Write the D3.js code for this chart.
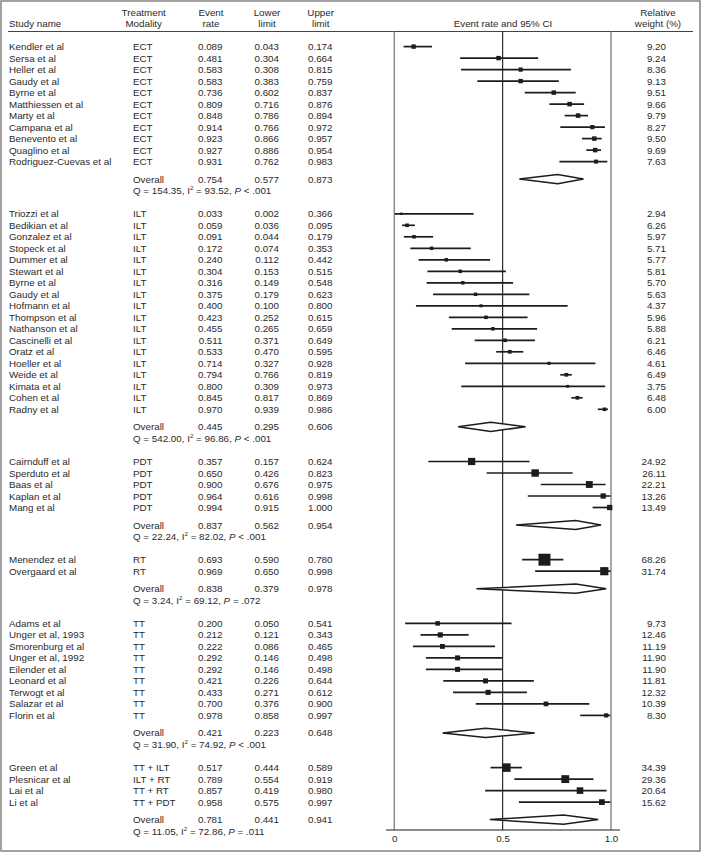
<!DOCTYPE html>
<html>
<head>
<meta charset="utf-8">
<script src="https://cdn.jsdelivr.net/npm/d3@7"></script>
<style>
  html, body { margin: 0; padding: 0; background: #fff; }
  svg { display: block; }
  text { font-family: "Liberation Sans", Arial, Helvetica, sans-serif; font-size: 9.8px; fill: #2a2a2a; }
</style>
</head>
<body>
<svg id="chart" width="702" height="853"></svg>
<script>
// ---------- DATA ----------
const groupNames = ["ECT", "ILT", "PDT", "RT", "TT", "Combination"];
const groupSizes = [11, 18, 5, 2, 9, 4];

const studyNames = [
  "Kendler et al", "Sersa et al", "Heller et al", "Gaudy et al", "Byrne et al", "Matthiessen et al", "Marty et al", "Campana et al", "Benevento et al", "Quaglino et al", "Rodriguez-Cuevas et al",
  "Triozzi et al", "Bedikian et al", "Gonzalez et al", "Stopeck et al", "Dummer et al", "Stewart et al", "Byrne et al", "Gaudy et al", "Hofmann et al", "Thompson et al", "Nathanson et al", "Cascinelli et al", "Oratz et al", "Hoeller et al", "Weide et al", "Kimata et al", "Cohen et al", "Radny et al",
  "Cairnduff et al", "Sperduto et al", "Baas et al", "Kaplan et al", "Mang et al",
  "Menendez et al", "Overgaard et al",
  "Adams et al", "Unger et al, 1993", "Smorenburg et al", "Unger et al, 1992", "Eilender et al", "Leonard et al", "Terwogt et al", "Salazar et al", "Florin et al",
  "Green et al", "Plesnicar et al", "Lai et al", "Li et al"
];
const modalities = [
  "ECT","ECT","ECT","ECT","ECT","ECT","ECT","ECT","ECT","ECT","ECT",
  "ILT","ILT","ILT","ILT","ILT","ILT","ILT","ILT","ILT","ILT","ILT","ILT","ILT","ILT","ILT","ILT","ILT","ILT",
  "PDT","PDT","PDT","PDT","PDT",
  "RT","RT",
  "TT","TT","TT","TT","TT","TT","TT","TT","TT",
  "TT + ILT","ILT + RT","TT + RT","TT + PDT"
];
const eventRates = [
  0.089,0.481,0.583,0.583,0.736,0.809,0.848,0.914,0.923,0.927,0.931,
  0.033,0.059,0.091,0.172,0.240,0.304,0.316,0.375,0.400,0.423,0.455,0.511,0.533,0.714,0.794,0.800,0.845,0.970,
  0.357,0.650,0.900,0.964,0.994,
  0.693,0.969,
  0.200,0.212,0.222,0.292,0.292,0.421,0.433,0.700,0.978,
  0.517,0.789,0.857,0.958
];
const lowerLimits = [
  0.043,0.304,0.308,0.383,0.602,0.716,0.786,0.766,0.866,0.886,0.762,
  0.002,0.036,0.044,0.074,0.112,0.153,0.149,0.179,0.100,0.252,0.265,0.371,0.470,0.327,0.766,0.309,0.817,0.939,
  0.157,0.426,0.676,0.616,0.915,
  0.590,0.650,
  0.050,0.121,0.086,0.146,0.146,0.226,0.271,0.376,0.858,
  0.444,0.554,0.419,0.575
];
const upperLimits = [
  0.174,0.664,0.815,0.759,0.837,0.876,0.894,0.972,0.957,0.954,0.983,
  0.366,0.095,0.179,0.353,0.442,0.515,0.548,0.623,0.800,0.615,0.659,0.649,0.595,0.928,0.819,0.973,0.869,0.986,
  0.624,0.823,0.975,0.998,1.000,
  0.780,0.998,
  0.541,0.343,0.465,0.498,0.498,0.644,0.612,0.900,0.997,
  0.589,0.919,0.980,0.997
];
const relWeights = [
  "9.20","9.24","8.36","9.13","9.51","9.66","9.79","8.27","9.50","9.69","7.63",
  "2.94","6.26","5.97","5.71","5.77","5.81","5.70","5.63","4.37","5.96","5.88","6.21","6.46","4.61","6.49","3.75","6.48","6.00",
  "24.92","26.11","22.21","13.26","13.49",
  "68.26","31.74",
  "9.73","12.46","11.19","11.90","11.90","11.81","12.32","10.39","8.30",
  "34.39","29.36","20.64","15.62"
];
const overallRates = [0.754, 0.445, 0.837, 0.838, 0.421, 0.781];
const overallLower = [0.577, 0.295, 0.562, 0.379, 0.223, 0.441];
const overallUpper = [0.873, 0.606, 0.954, 0.978, 0.648, 0.941];
const hetQ = ["154.35", "542.00", "22.24", "3.24", "31.90", "11.05"];
const hetI2 = ["93.52", "96.86", "82.02", "69.12", "74.92", "72.86"];
const hetP = ["< .001", "< .001", "< .001", "= .072", "< .001", "= .011"];
const axisTicks = [0, 0.5, 1.0];
const axisTickLabels = ["0", "0.5", "1.0"];

// ---------- LAYOUT ----------
const svg = d3.select("#chart");
const W = 702, H = 853;
const x = d3.scaleLinear().domain([0, 1]).range([394.3, 611]);
const boxSize = d3.scaleSqrt().domain([0, 100]).range([0, 14.5]);
const rowH = 11.5, headerLineY = 31.5, axisY = 830;
const colStudy = 9, colMod = 133, colEvent = 222.5, colLower = 279, colUpper = 332.5, colWeight = 666;
const ink = "#1c1c1c";

// outer frame
svg.append("rect").attr("x", 1).attr("y", 1).attr("width", 699).attr("height", 850)
  .attr("fill", "none").attr("stroke", "#8a8a8a").attr("stroke-width", 1.6);

// headers
const hdr = svg.append("g");
function htext(t, xx, yy, anchor) {
  hdr.append("text").attr("x", xx).attr("y", yy).attr("text-anchor", anchor || "middle").text(t);
}
htext("Study name", colStudy, 26.5, "start");
htext("Treatment", 143.7, 16); htext("Modality", 143.7, 26.5);
htext("Event", 211, 16); htext("rate", 211, 26.5);
htext("Lower", 267, 16); htext("limit", 267, 26.5);
htext("Upper", 320.7, 16); htext("limit", 320.7, 26.5);
htext("Event rate and 95% CI", 503, 26.5);
htext("Relative", 658, 16); htext("weight (%)", 658, 26.5);

svg.append("line").attr("x1", 8).attr("x2", 693).attr("y1", headerLineY).attr("y2", headerLineY)
  .attr("stroke", "#444").attr("stroke-width", 1);

// reference lines
[[0, "#8a8a8a", 1.5], [1, "#8a8a8a", 1.5], [0.5, "#1a1a1a", 1.1]].forEach(([v, c, w]) => {
  svg.append("line").attr("x1", x(v)).attr("x2", x(v)).attr("y1", headerLineY).attr("y2", axisY)
    .attr("stroke", c).attr("stroke-width", w);
});

// axis
const axisG = svg.append("g").attr("transform", `translate(0,${axisY})`)
  .call(d3.axisBottom(x).tickValues(axisTicks).tickFormat((d, i) => axisTickLabels[i]).tickSize(0).tickPadding(5));
axisG.select(".domain").remove();
axisG.selectAll("text").attr("font-family", null).attr("font-size", null).style("fill", "#2a2a2a").attr("dy", "0.71em");
svg.append("line").attr("x1", 386).attr("x2", 620).attr("y1", axisY).attr("y2", axisY)
  .attr("stroke", ink).attr("stroke-width", 1.2);

// rows
const body = svg.append("g");
let y = 46.6;
let idx = 0;
const fmt = d3.format(".3f");
groupSizes.forEach((n, g) => {
  for (let k = 0; k < n; k++, idx++) {
    const ty = y + 3.5;
    body.append("text").attr("x", colStudy).attr("y", ty).text(studyNames[idx]);
    body.append("text").attr("x", colMod).attr("y", ty).text(modalities[idx]);
    body.append("text").attr("x", colEvent).attr("y", ty).attr("text-anchor", "end").text(fmt(eventRates[idx]));
    body.append("text").attr("x", colLower).attr("y", ty).attr("text-anchor", "end").text(fmt(lowerLimits[idx]));
    body.append("text").attr("x", colUpper).attr("y", ty).attr("text-anchor", "end").text(fmt(upperLimits[idx]));
    body.append("text").attr("x", colWeight).attr("y", ty).attr("text-anchor", "end").text(relWeights[idx]);
    body.append("line").attr("x1", x(lowerLimits[idx])).attr("x2", x(upperLimits[idx]))
      .attr("y1", y).attr("y2", y).attr("stroke", ink).attr("stroke-width", 1.7);
    const s = Math.max(2.4, boxSize(+relWeights[idx]));
    body.append("rect").attr("x", x(eventRates[idx]) - s / 2).attr("y", y - s / 2)
      .attr("width", s).attr("height", s).attr("fill", ink);
    if (k < n - 1) y += rowH;
  }
  // overall
  y += 17.5;
  const ty = y + 3.5;
  body.append("text").attr("x", colMod).attr("y", ty).text("Overall");
  body.append("text").attr("x", colEvent).attr("y", ty).attr("text-anchor", "end").text(fmt(overallRates[g]));
  body.append("text").attr("x", colLower).attr("y", ty).attr("text-anchor", "end").text(fmt(overallLower[g]));
  body.append("text").attr("x", colUpper).attr("y", ty).attr("text-anchor", "end").text(fmt(overallUpper[g]));
  const hh = 4.6;
  const pts = [[x(overallLower[g]), y], [x(overallRates[g]), y - hh], [x(overallUpper[g]), y], [x(overallRates[g]), y + hh]];
  body.append("path").attr("d", d3.line()(pts) + "Z")
    .attr("fill", "#fff").attr("stroke", ink).attr("stroke-width", 1.5).attr("stroke-linejoin", "miter");
  // heterogeneity
  y += 11.4;
  const q = body.append("text").attr("x", colMod).attr("y", y + 3.5);
  q.append("tspan").text(`Q = ${hetQ[g]}, I`);
  q.append("tspan").attr("font-size", "6.2px").attr("dy", -3.6).text("2");
  q.append("tspan").attr("dy", 3.6).text(` = ${hetI2[g]}, `);
  q.append("tspan").attr("font-style", "italic").text("P");
  q.append("tspan").text(` ${hetP[g]}`);
  y += 23.3;
});
</script>
</body>
</html>
